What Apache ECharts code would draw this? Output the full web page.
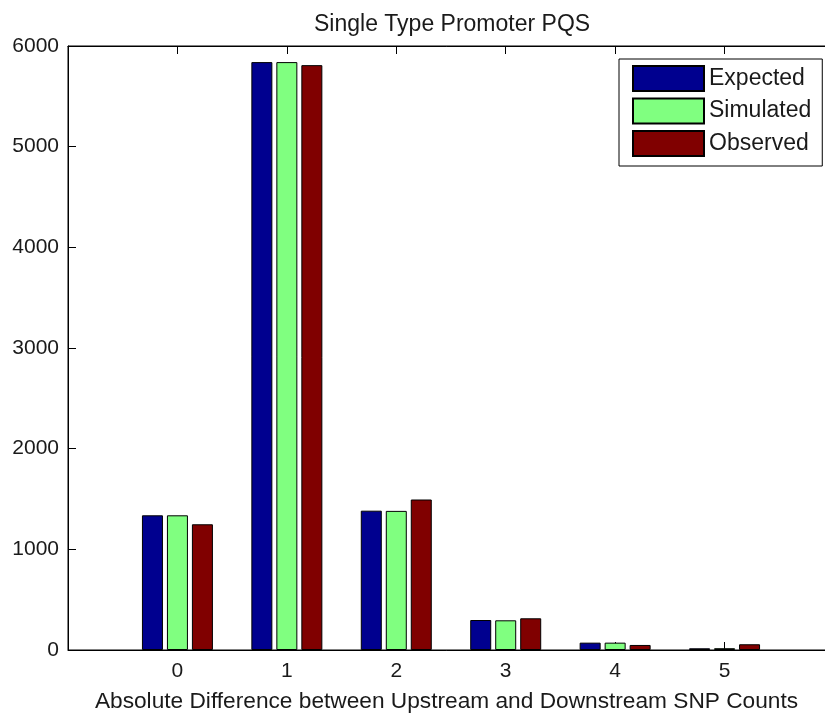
<!DOCTYPE html>
<html>
<head>
<meta charset="utf-8">
<script src="https://cdn.jsdelivr.net/npm/echarts@6/dist/echarts.min.js"></script>
<style>
  html, body { margin: 0; padding: 0; background: #fff; }
  #chart { width: 825px; height: 717px; }
</style>
</head>
<body>
<div id="chart"></div>
<script>
// Counts per absolute difference between upstream and downstream SNP counts
const categories = [0, 1, 2, 3, 4, 5];
const expected  = [1338, 5840, 1384, 298, 73, 17];
const simulated = [1338, 5840, 1382, 295, 73, 18];
const observed  = [1249, 5810, 1495, 315, 50, 57];
const yTicks = [0, 1000, 2000, 3000, 4000, 5000, 6000];

const FONT = '"Liberation Sans", Arial, sans-serif';
const TXT = '#1a1a1a';

function pairs(values) {
  return categories.map((c, i) => [c, values[i]]);
}

function barSeries(name, values, color) {
  return {
    name: name,
    type: 'bar',
    data: pairs(values),
    barWidth: 21,
    barGap: '19%',
    itemStyle: { color: color, borderColor: '#000', borderWidth: 1 }
  };
}

const chart = echarts.init(document.getElementById('chart'), null, { renderer: 'canvas' });

const integerLabel = v => (Number.isInteger(v) && categories.indexOf(v) >= 0) ? String(v) : '';

const boxAxisLine = { show: true, onZero: false, lineStyle: { color: '#000', width: 1 } };
const innerTick = { show: true, inside: true, length: 8, lineStyle: { color: '#000' } };

chart.setOption({
  animation: false,
  backgroundColor: '#fff',
  title: {
    text: 'Single Type Promoter PQS',
    left: 309,
    top: 8,
    textStyle: { fontFamily: FONT, fontSize: 23, fontWeight: 'normal', color: TXT }
  },
  legend: {
    orient: 'vertical',
    left: 619,
    top: 59,
    padding: [6, 11, 9, 13],
    itemWidth: 71,
    itemHeight: 25,
    itemGap: 5.5,
    icon: 'rect',
    borderColor: '#000',
    borderWidth: 1,
    backgroundColor: '#fff',
    textStyle: { fontFamily: FONT, fontSize: 23, color: TXT },
    data: ['Expected', 'Simulated', 'Observed']
  },
  grid: {
    left: 68, right: -9, top: 46, bottom: 67,
    outerBoundsMode: 'none',
    containLabel: false,
    show: true, borderColor: '#000', borderWidth: 1, backgroundColor: '#fff'
  },
  xAxis: [
    {
      type: 'value', min: -1, max: 6, interval: 1,
      position: 'bottom',
      name: 'Absolute Difference between Upstream and Downstream SNP Counts',
      nameLocation: 'middle',
      nameGap: 40,
      nameTextStyle: { fontFamily: FONT, fontSize: 22.7, color: TXT, padding: [0, 9, 0, 0] },
      axisLine: boxAxisLine,
      axisTick: innerTick,
      axisLabel: { fontFamily: FONT, fontSize: 21, color: TXT, margin: 11, formatter: integerLabel },
      splitLine: { show: false }
    },
    {
      type: 'value', min: -1, max: 6, interval: 1,
      position: 'top',
      axisLine: boxAxisLine,
      axisTick: innerTick,
      axisLabel: { show: false },
      splitLine: { show: false }
    }
  ],
  yAxis: [
    {
      type: 'value', min: 0, max: 6000, interval: 1000,
      position: 'left',
      axisLine: boxAxisLine,
      axisTick: innerTick,
      axisLabel: {
        fontFamily: FONT, fontSize: 21, color: TXT, margin: 9,
        formatter: v => yTicks.indexOf(v) >= 0 ? String(v) : ''
      },
      splitLine: { show: false }
    },
    {
      type: 'value', min: 0, max: 6000, interval: 1000,
      position: 'right',
      axisLine: boxAxisLine,
      axisTick: innerTick,
      axisLabel: { show: false },
      splitLine: { show: false }
    }
  ],
  series: [
    barSeries('Expected', expected, '#00008F'),
    barSeries('Simulated', simulated, '#80FF80'),
    barSeries('Observed', observed, '#800000')
  ]
});
</script>
</body>
</html>
